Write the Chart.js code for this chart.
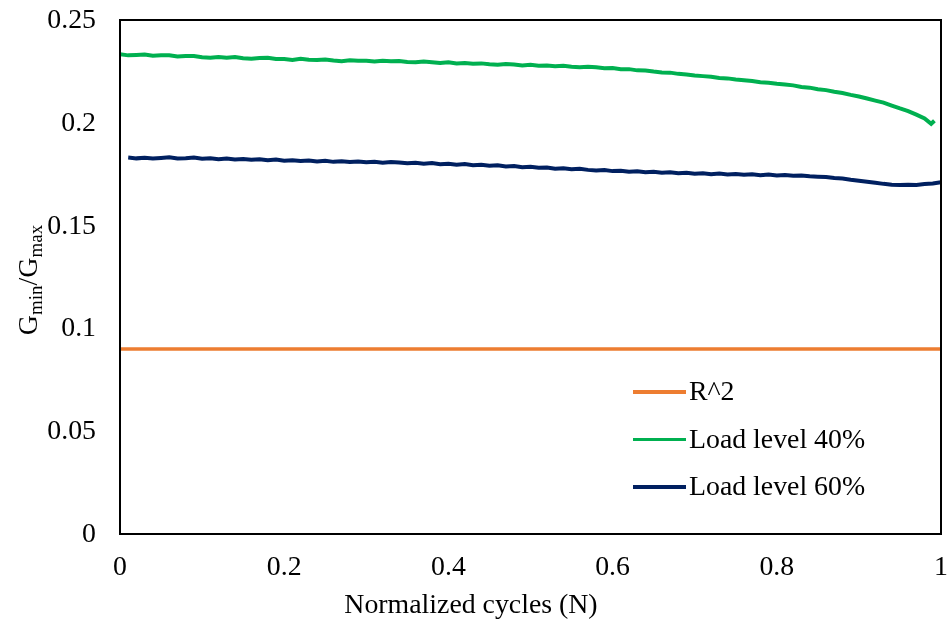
<!DOCTYPE html>
<html>
<head>
<meta charset="utf-8">
<script src="https://cdn.jsdelivr.net/npm/chart.js@4"></script>
<style>
  html, body { margin: 0; padding: 0; background: #fff; }
  #wrap { width: 949px; height: 627px; position: relative; }
</style>
</head>
<body>
<div id="wrap"><canvas id="chart" width="949" height="627"></canvas></div>
<script>
// normalized cycle positions
var cyclesR2 = [0, 1];
var cycles40 = [0.00, 0.01, 0.02, 0.03, 0.04, 0.05, 0.06, 0.07, 0.08, 0.09,
  0.10, 0.11, 0.12, 0.13, 0.14, 0.15, 0.16, 0.17, 0.18, 0.19,
  0.20, 0.21, 0.22, 0.23, 0.24, 0.25, 0.26, 0.27, 0.28, 0.29,
  0.30, 0.31, 0.32, 0.33, 0.34, 0.35, 0.36, 0.37, 0.38, 0.39,
  0.40, 0.41, 0.42, 0.43, 0.44, 0.45, 0.46, 0.47, 0.48, 0.49,
  0.50, 0.51, 0.52, 0.53, 0.54, 0.55, 0.56, 0.57, 0.58, 0.59,
  0.60, 0.61, 0.62, 0.63, 0.64, 0.65, 0.66, 0.67, 0.68, 0.69,
  0.70, 0.71, 0.72, 0.73, 0.74, 0.75, 0.76, 0.77, 0.78, 0.79,
  0.80, 0.81, 0.82, 0.83, 0.84, 0.85, 0.86, 0.87, 0.88, 0.89,
  0.90, 0.91, 0.92, 0.93, 0.94, 0.95, 0.96, 0.97, 0.98, 0.988, 0.992];
var cycles60 = [0.01, 0.02, 0.03, 0.04, 0.05, 0.06, 0.07, 0.08, 0.09,
  0.10, 0.11, 0.12, 0.13, 0.14, 0.15, 0.16, 0.17, 0.18, 0.19,
  0.20, 0.21, 0.22, 0.23, 0.24, 0.25, 0.26, 0.27, 0.28, 0.29,
  0.30, 0.31, 0.32, 0.33, 0.34, 0.35, 0.36, 0.37, 0.38, 0.39,
  0.40, 0.41, 0.42, 0.43, 0.44, 0.45, 0.46, 0.47, 0.48, 0.49,
  0.50, 0.51, 0.52, 0.53, 0.54, 0.55, 0.56, 0.57, 0.58, 0.59,
  0.60, 0.61, 0.62, 0.63, 0.64, 0.65, 0.66, 0.67, 0.68, 0.69,
  0.70, 0.71, 0.72, 0.73, 0.74, 0.75, 0.76, 0.77, 0.78, 0.79,
  0.80, 0.81, 0.82, 0.83, 0.84, 0.85, 0.86, 0.87, 0.88, 0.89,
  0.90, 0.91, 0.92, 0.93, 0.94, 0.95, 0.96, 0.97, 0.98, 0.99, 1.00];

// Gmin/Gmax ratios
var ratioR2 = [0.09, 0.09];
var ratio40 = [0.2333, 0.2328, 0.2330, 0.2332, 0.2326, 0.2328, 0.2328, 0.2322, 0.2325, 0.2325,
  0.2319, 0.2316, 0.2320, 0.2317, 0.2320, 0.2314, 0.2311, 0.2315, 0.2316, 0.2310,
  0.2310, 0.2306, 0.2311, 0.2307, 0.2305, 0.2308, 0.2303, 0.2300, 0.2304, 0.2302,
  0.2302, 0.2298, 0.2302, 0.2299, 0.2300, 0.2296, 0.2294, 0.2298, 0.2295, 0.2291,
  0.2294, 0.2289, 0.2291, 0.2287, 0.2289, 0.2285, 0.2282, 0.2286, 0.2284, 0.2279,
  0.2282, 0.2278, 0.2279, 0.2275, 0.2277, 0.2273, 0.2270, 0.2272, 0.2270, 0.2265,
  0.2266, 0.2261, 0.2261, 0.2255, 0.2254, 0.2249, 0.2245, 0.2244, 0.2238, 0.2235,
  0.2230, 0.2227, 0.2224, 0.2218, 0.2216, 0.2211, 0.2207, 0.2203, 0.2197, 0.2195,
  0.2190, 0.2186, 0.2182, 0.2174, 0.2171, 0.2163, 0.2159, 0.2151, 0.2145, 0.2136,
  0.2128, 0.2118, 0.2108, 0.2098, 0.2084, 0.2070, 0.2057, 0.2040, 0.2021, 0.1995, 0.2010];
var ratio60 = [0.1831, 0.1827, 0.1830, 0.1826, 0.1829, 0.1832, 0.1826, 0.1828, 0.1831,
  0.1825, 0.1828, 0.1823, 0.1826, 0.1822, 0.1824, 0.1820, 0.1823, 0.1818, 0.1821,
  0.1816, 0.1818, 0.1814, 0.1817, 0.1812, 0.1815, 0.1810, 0.1813, 0.1809, 0.1812,
  0.1808, 0.1811, 0.1806, 0.1809, 0.1807, 0.1803, 0.1806, 0.1801, 0.1804, 0.1799,
  0.1801, 0.1796, 0.1799, 0.1794, 0.1796, 0.1791, 0.1793, 0.1788, 0.1790, 0.1784,
  0.1786, 0.1781, 0.1783, 0.1777, 0.1779, 0.1774, 0.1776, 0.1771, 0.1768, 0.1770,
  0.1765, 0.1767, 0.1762, 0.1764, 0.1760, 0.1762, 0.1757, 0.1759, 0.1755, 0.1757,
  0.1752, 0.1755, 0.1750, 0.1753, 0.1749, 0.1751, 0.1747, 0.1750, 0.1745, 0.1748,
  0.1744, 0.1746, 0.1742, 0.1744, 0.1740, 0.1738, 0.1736, 0.1731, 0.1729, 0.1723,
  0.1718, 0.1713, 0.1708, 0.1703, 0.1699, 0.1697, 0.1699, 0.1698, 0.1702, 0.1705, 0.1711];

var seriesNames = ["R^2", "Load level 40%", "Load level 60%"];
var seriesColors = ["#ED7D31", "#00B050", "#002060"];
var xTicks = [0, 0.2, 0.4, 0.6, 0.8, 1];
var yTicks = [0, 0.05, 0.1, 0.15, 0.2, 0.25];

var FONT = "'Liberation Serif', 'Times New Roman', serif";
var TEXT_SIZE = 27;
var WIDEN = 1.03; // text is drawn a touch wider than the font's natural width

function pts(xs, ys) {
  return xs.map(function (x, i) { return { x: x, y: ys[i] }; });
}

// widened text at (x, y)
function wideText(c, str, x, y, size, align) {
  c.save();
  c.translate(x, y);
  c.scale(WIDEN, 1);
  c.font = size + "px " + FONT;
  c.textAlign = align || "left";
  c.fillText(str, 0, 0);
  c.restore();
}

// tick labels and axis titles
var labels = {
  id: "labels",
  afterDraw: function (chart) {
    var c = chart.ctx;
    var xs = chart.scales.x, ys = chart.scales.y;
    c.save();
    c.fillStyle = "#000";
    c.textBaseline = "middle";
    yTicks.forEach(function (v) {
      wideText(c, String(v), 96, ys.getPixelForValue(v) + 1, TEXT_SIZE, "right");
    });
    xTicks.forEach(function (v) {
      wideText(c, String(v), xs.getPixelForValue(v), 568, TEXT_SIZE, "center");
    });
    wideText(c, "Normalized cycles (N)", 471, 606, TEXT_SIZE, "center");

    // y title, G_min/G_max with subscripts
    var parts = [["G", 28, 0], ["min", 19, 5], ["/G", 28, 0], ["max", 19, 5]];
    var total = 0;
    parts.forEach(function (p) {
      c.font = p[1] + "px " + FONT;
      total += c.measureText(p[0]).width;
    });
    c.translate(37, 280);
    c.rotate(-Math.PI / 2);
    c.textBaseline = "alphabetic";
    c.textAlign = "left";
    var x = -total / 2;
    parts.forEach(function (p) {
      c.font = p[1] + "px " + FONT;
      c.fillText(p[0], x, p[2]);
      x += c.measureText(p[0]).width;
    });
    c.restore();
  }
};

// legend drawn inside the plot, lower right
var insideLegend = {
  id: "insideLegend",
  afterDraw: function (chart) {
    var c = chart.ctx;
    c.save();
    c.fillStyle = "#000";
    c.textBaseline = "middle";
    chart.data.datasets.forEach(function (ds, i) {
      var y = 392 + i * 47.5;
      c.strokeStyle = ds.borderColor;
      c.lineWidth = i === 1 ? 3 : 4;
      c.beginPath();
      c.moveTo(633, y);
      c.lineTo(686, y);
      c.stroke();
      wideText(c, ds.label, 689, y + 1, TEXT_SIZE, "left");
    });
    c.restore();
  }
};

// full box round the plot area
var frame = {
  id: "frame",
  afterDatasetsDraw: function (chart) {
    var a = chart.chartArea, c = chart.ctx;
    c.save();
    c.strokeStyle = "#000";
    c.lineWidth = 2;
    c.strokeRect(a.left, a.top, a.right - a.left, a.bottom - a.top);
    c.restore();
  }
};

var ctx = document.getElementById("chart").getContext("2d");
var chart = new Chart(ctx, {
  type: "scatter",
  data: {
    datasets: [
      { label: seriesNames[0], data: pts(cyclesR2, ratioR2), borderColor: seriesColors[0], borderWidth: 3.5 },
      { label: seriesNames[1], data: pts(cycles40, ratio40), borderColor: seriesColors[1], borderWidth: 4 },
      { label: seriesNames[2], data: pts(cycles60, ratio60), borderColor: seriesColors[2], borderWidth: 4 }
    ].map(function (d) {
      d.showLine = true;
      d.pointRadius = 0;
      d.backgroundColor = d.borderColor;
      d.tension = 0;
      return d;
    })
  },
  options: {
    responsive: false,
    animation: false,
    layout: { padding: { top: 20, right: 8, left: 0, bottom: 0 } },
    plugins: { legend: { display: false }, tooltip: { enabled: false } },
    scales: {
      x: {
        type: "linear",
        min: 0,
        max: 1,
        afterFit: function (s) { s.height = 93; },
        grid: { display: false, drawTicks: false },
        border: { display: false },
        ticks: { display: false }
      },
      y: {
        min: 0,
        max: 0.25,
        afterFit: function (s) { s.width = 120; },
        grid: { display: false, drawTicks: false },
        border: { display: false },
        ticks: { display: false }
      }
    }
  },
  plugins: [frame, labels, insideLegend]
});
</script>
</body>
</html>
